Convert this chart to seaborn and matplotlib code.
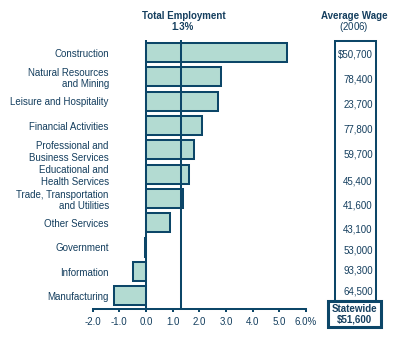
import matplotlib
matplotlib.use("Agg")
import matplotlib.pyplot as plt
from matplotlib.patches import Rectangle
from matplotlib.transforms import blended_transform_factory
import seaborn as sns
import pandas as pd

# Employment growth by industry and average wage
industries = [
    "Construction",
    "Natural Resources\nand Mining",
    "Leisure and Hospitality",
    "Financial Activities",
    "Professional and\nBusiness Services",
    "Educational and\nHealth Services",
    "Trade, Transportation\nand Utilities",
    "Other Services",
    "Government",
    "Information",
    "Manufacturing",
]
growth_pct = [5.3, 2.8, 2.7, 2.1, 1.8, 1.6, 1.4, 0.9, -0.05, -0.5, -1.2]
avg_wage = ["$50,700", "78,400", "23,700", "77,800", "59,700", "45,400",
            "41,600", "43,100", "53,000", "93,300", "64,500"]
total_growth = 1.3
statewide_wage = "$51,600"
xticks = [-2, -1, 0, 1, 2, 3, 4, 5, 6]
xtick_labels = ["-2.0", "-1.0", "0.0", "1.0", "2.0", "3.0", "4.0", "5.0", "6.0%"]

# vertical nudge of each wage label relative to its bar row (row units)
wage_nudge = [0.1, 0.12, 0.12, 0.18, 0.2, 0.28, 0.28, 0.27, 0.12, -0.04, -0.2]

NAVY = "#0c4668"
TEXT = "#143e5e"
FILL = "#b3dbd2"

sns.set_theme(style="white")
plt.rcParams["font.family"] = ["Liberation Sans", "DejaVu Sans"]
plt.rcParams["mathtext.fontset"] = "custom"
plt.rcParams["mathtext.it"] = "Liberation Sans:italic"
plt.rcParams["mathtext.rm"] = "Liberation Sans"

W, H = 404, 343
fig = plt.figure(figsize=(W / 100, H / 100), dpi=100)
ax = fig.add_axes([92.7 / W, (H - 309) / H, (306 - 92.7) / W, (309 - 40) / H])

df = pd.DataFrame({"industry": industries, "growth": growth_pct})
sns.barplot(data=df, y="industry", x="growth", orient="h", ax=ax,
            color=FILL, saturation=1, width=0.78,
            edgecolor=NAVY, linewidth=1.45, zorder=2)

ax.axvline(0, color=NAVY, lw=1.45, zorder=3)
ax.axvline(total_growth, color=NAVY, lw=1.45, zorder=3)

ax.set_xlim(-2, 6)
ax.set_ylim(len(industries) - 1 + 0.535, -0.515)
ax.set_xticks(xticks)
ax.set_xticklabels(xtick_labels)
ax.set_xlabel("")
ax.set_ylabel("")

for s in ["top", "right", "left"]:
    ax.spines[s].set_visible(False)
ax.spines["bottom"].set_color(NAVY)
ax.spines["bottom"].set_linewidth(1.45)
ax.tick_params(axis="x", bottom=True, direction="out", length=2.5, width=1.45,
               color=NAVY, labelcolor=TEXT, labelsize=7, pad=3)
# category labels sit inside the axes, right edge just left of the zero line
ax.tick_params(axis="y", left=False, length=0, pad=-11.6, labelcolor=TEXT,
               labelsize=7)
for lab in ax.get_yticklabels():
    lab.set_linespacing(1.2)

# Headers
fig.text(184 / W, 1 - 16 / H, "Total Employment", ha="center", va="center",
         fontsize=7, fontweight="bold", color=TEXT)
fig.text(183 / W, 1 - 27.5 / H, f"{total_growth:.1f}%", ha="center", va="center",
         fontsize=7, fontweight="bold", color=TEXT)
fig.text(354 / W, 1 - 16 / H, "Average Wage", ha="center", va="center",
         fontsize=7, fontweight="bold", color=TEXT)
fig.text(354 / W, 1 - 27.5 / H, "($\\mathit{2006}$)", ha="center", va="center",
         fontsize=7, color=TEXT)

# Average wage column
trans = blended_transform_factory(fig.transFigure, ax.transData)
for i, w in enumerate(avg_wage):
    ax.text(372.7 / W, i + wage_nudge[i], w, transform=trans, ha="right",
            va="center", fontsize=7, color=TEXT, clip_on=False)

fig.patches.append(Rectangle((335 / W, 1 - 300.7 / H), (375.5 - 335) / W,
                             (300.7 - 41.3) / H, transform=fig.transFigure,
                             fill=False, edgecolor=NAVY, lw=1.45))
fig.patches.append(Rectangle((328 / W, 1 - 326.5 / H), (381 - 328) / W,
                             (326.5 - 301) / H, transform=fig.transFigure,
                             facecolor="white", edgecolor=NAVY, lw=2.2, zorder=5))
fig.text(354.7 / W, 1 - 308.7 / H, "Statewide", ha="center", va="center",
         fontsize=7, fontweight="bold", color=TEXT, zorder=6)
fig.text(354.7 / W, 1 - 319.5 / H, statewide_wage, ha="center", va="center",
         fontsize=7, fontweight="bold", color=TEXT, zorder=6)

fig.savefig("out.png", dpi=100)
